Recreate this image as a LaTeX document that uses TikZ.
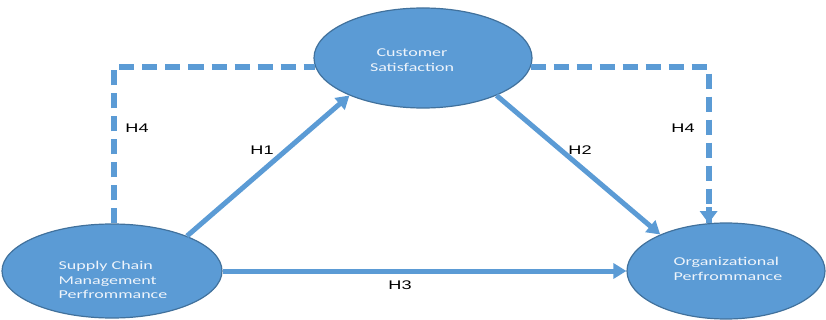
\documentclass[tikz,border=0pt]{standalone}
\usepackage{fontspec}
\setmainfont{Liberation Sans}
\newfontfamily\ellfont[FakeStretch=1.5]{Carlito}
\newfontfamily\labfont[FakeStretch=1.45]{Liberation Sans}
\usetikzlibrary{shapes.geometric,arrows.meta}
\definecolor{fillblue}{HTML}{5B9BD5}
\definecolor{edgeblue}{HTML}{41719C}
\definecolor{arrowblue}{HTML}{5B9BD5}
\definecolor{txtwhite}{HTML}{EEF4FB}
\tikzset{
  construct/.style={ellipse, draw=edgeblue, line width=1.2pt, fill=fillblue, inner sep=0pt},
  ctext/.style={text=txtwhite, font=\ellfont\fontsize{12}{14.5}\selectfont, inner sep=0pt},
  link/.style={draw=arrowblue, line width=5pt, -{Triangle[length=13pt,width=15pt]}},
  dashlink/.style={draw=arrowblue, line width=6pt, dash pattern=on 15pt off 8pt},
  hlabel/.style={font=\labfont\fontsize{12.5}{14}\selectfont, text=black}
}
\begin{document}
\begin{tikzpicture}[x=1pt,y=1pt]
\useasboundingbox (0,0) rectangle (826,-320);
\node[construct, minimum width=220pt, minimum height=94pt] (scm) at (112,-271) {};
\node[construct, minimum width=218pt, minimum height=100pt] (cs) at (423,-58) {};
\node[construct, minimum width=198pt, minimum height=96pt] (org) at (726,-271) {};
\node[ctext, align=left] (scmt) at (113,-280) {Supply Chain\\Management\\Perfrommance};
\node[ctext, align=center] (cst) at (412,-60) {Customer\\Satisfaction};
\node[ctext, align=left] (orgt) at (728,-269) {Organizational\\Perfrommance};
% connectors
\draw[dashlink] (scm.87) |- (cs.185);
\draw[dashlink] (cs.-5) -| (org.110);
\coordinate (tipstart) at ([yshift=16pt]org.110);
\draw[draw=arrowblue, line width=6pt, -{Triangle[length=12pt,width=17pt]}] (tipstart) -- (org.110);
\draw[link] (scm.25) -- (cs.207);
\draw[link] (cs.-27) -- (org.151);
\draw[link] (scm.east) -- (org.west);
% labels
\node[hlabel] (l4a) at (137,-128) {H4};
\node[hlabel] (l1) at (262,-150) {H1};
\node[hlabel] (l2) at (580,-150) {H2};
\node[hlabel] (l4b) at (683,-128) {H4};
\node[hlabel] (l3) at (400,-285) {H3};
\end{tikzpicture}
\end{document}
